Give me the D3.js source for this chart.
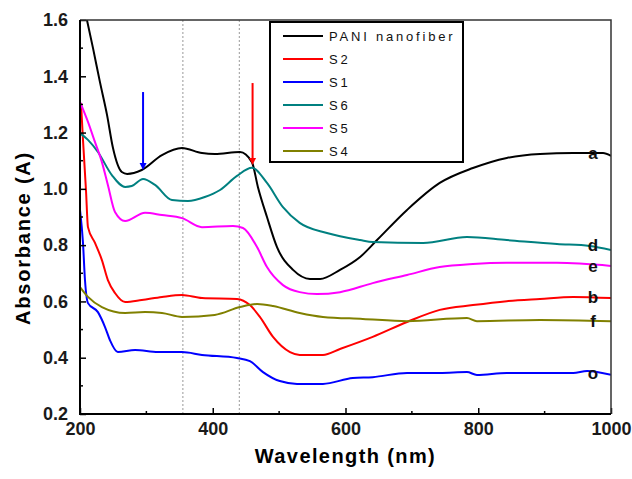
<!DOCTYPE html>
<html>
<head>
<meta charset="utf-8">
<script src="https://cdnjs.cloudflare.com/ajax/libs/d3/7.8.5/d3.min.js"></script>
<style>
  body { margin: 0; background: #fff; }
  svg { display: block; font-family: "Liberation Sans", Arial, sans-serif; }
</style>
</head>
<body>
<svg id="chart" width="632" height="479"></svg>
<script>
// wavelength (nm) / absorbance pairs
var pani = [[205,1.66],[219.6,1.50],[230,1.38],[240.7,1.263],[249.7,1.145],[263,1.060],[271,1.053],[293,1.067],[323.5,1.120],[353.7,1.145],[383.8,1.127],[403,1.124],[441,1.131],[459,1.095],[468,1.007],[481.7,0.900],[496.8,0.793],[521,0.712],[546.5,0.680],[561.6,0.680],[591.7,0.712],[622,0.758],[647.5,0.818],[692.7,0.925],[742,1.021],[792,1.074],[843,1.110],[893,1.124],[943,1.127],[988,1.127],[1000,1.117]];
var s2 = [[201.5,1.305],[204.5,1.174],[209,0.996],[212,0.864],[222.6,0.808],[233,0.747],[242,0.676],[252.7,0.630],[268,0.598],[293,0.605],[323.5,0.616],[353.7,0.623],[383.8,0.612],[436.5,0.609],[456,0.587],[471,0.545],[490.8,0.474],[516.4,0.420],[531,0.410],[566,0.410],[591.7,0.431],[641,0.474],[692.7,0.527],[742,0.570],[792,0.587],[843,0.601],[893,0.609],[943,0.616],[1000,0.612]];
var s1 = [[200,0.925],[204.5,0.808],[207.5,0.676],[212,0.594],[227,0.562],[237.7,0.509],[245,0.463],[257,0.420],[283,0.427],[317.5,0.420],[353.7,0.420],[383.8,0.410],[436.5,0.399],[456,0.388],[475.7,0.349],[501,0.317],[527,0.307],[566,0.307],[611,0.328],[641,0.331],[692.7,0.346],[742,0.346],[783,0.349],[798,0.339],[843,0.346],[943,0.346],[964,0.353],[1000,0.339]];
var s6 = [[200,1.198],[212,1.174],[227,1.131],[248,1.049],[268,1.007],[278,1.010],[295,1.035],[313,1.014],[338.6,0.960],[362.7,0.957],[388,0.971],[411,0.996],[436.5,1.046],[459,1.075],[481.7,1.021],[505.8,0.935],[531,0.879],[572,0.843],[622,0.818],[641,0.811],[717,0.808],[783,0.829],[843,0.818],[918.6,0.804],[968,0.797],[1000,0.783]];
var s5 = [[200,1.309],[212,1.238],[222.6,1.166],[233,1.095],[242,1.014],[252.7,0.918],[268,0.886],[298,0.915],[323.5,0.907],[353.7,0.896],[383.8,0.864],[430.5,0.868],[445.6,0.861],[466.7,0.793],[481.7,0.722],[505.8,0.658],[531,0.633],[557,0.626],[591.7,0.633],[641,0.665],[692.7,0.694],[742,0.722],[792,0.733],[843,0.737],[918.6,0.737],[1000,0.726]];
var s4 = [[200,0.651],[212,0.616],[233,0.580],[268,0.559],[298,0.562],[323.5,0.559],[353.7,0.545],[403,0.552],[441,0.580],[466.7,0.591],[490.8,0.584],[531,0.559],[566,0.545],[626,0.538],[692.7,0.530],[783,0.541],[798,0.530],[893,0.534],[1000,0.530]];

var seriesNames = ["PANI nanofiber", "S2", "S1", "S6", "S5", "S4"];
var seriesData = [pani, s2, s1, s6, s5, s4];
var seriesColors = ["#000000", "#ff0000", "#0000ff", "#008080", "#ff00ff", "#808000"];
var curveLabels = [["a", 1.127], ["d", 0.80], ["e", 0.727], ["b", 0.614], ["f", 0.53], ["o", 0.345]];
var xTicks = [200, 400, 600, 800, 1000];
var yTicks = [0.2, 0.4, 0.6, 0.8, 1.0, 1.2, 1.4, 1.6];
var markerLines = [355, 440];
var arrows = [[295, 1.344, 1.067, "#0000ff"], [460, 1.376, 1.085, "#ff0000"]];

var svg = d3.select("#chart");
var mLeft = 80, mRight = 611, mTop = 20, mBottom = 414;

var x = d3.scaleLinear().domain([200, 1000]).range([mLeft, mRight]);
var y = d3.scaleLinear().domain([0.2, 1.6]).range([mBottom, mTop]);

svg.append("defs").append("clipPath").attr("id", "clip")
  .append("rect").attr("x", mLeft).attr("y", mTop).attr("width", mRight - mLeft).attr("height", mBottom - mTop);

// dotted guides
svg.selectAll("line.guide").data(markerLines).enter().append("line")
  .attr("class", "guide")
  .attr("x1", function (d) { return x(d); }).attr("x2", function (d) { return x(d); })
  .attr("y1", mTop).attr("y2", mBottom)
  .attr("stroke", "#999").attr("stroke-width", 1).attr("stroke-dasharray", "2,2");

var line = d3.line().curve(d3.curveMonotoneX)
  .x(function (d) { return x(d[0]); }).y(function (d) { return y(d[1]); });

var plot = svg.append("g").attr("clip-path", "url(#clip)");
seriesData.forEach(function (data, i) {
  plot.append("path").datum(data)
    .attr("d", line)
    .attr("fill", "none")
    .attr("stroke", seriesColors[i])
    .attr("stroke-width", 2)
    .attr("stroke-linejoin", "round");
});

// arrows
arrows.forEach(function (a) {
  var ax = x(a[0]), y1 = y(a[1]), y2 = y(a[2]);
  svg.append("line").attr("x1", ax).attr("x2", ax).attr("y1", y1).attr("y2", y2 - 5)
    .attr("stroke", a[3]).attr("stroke-width", 2);
  svg.append("path")
    .attr("d", "M" + (ax - 3.5) + "," + (y2 - 7) + "L" + (ax + 3.5) + "," + (y2 - 7) + "L" + ax + "," + y2 + "Z")
    .attr("fill", a[3]);
});

// axes
var xAxis = d3.axisBottom(x).tickValues(xTicks).tickSizeInner(-6).tickSizeOuter(0).tickPadding(12).tickFormat(d3.format("d"));
var gx = svg.append("g").attr("transform", "translate(0," + mBottom + ")").call(xAxis);
var yAxis = d3.axisLeft(y).tickValues(yTicks).tickSizeInner(-6).tickSizeOuter(0).tickPadding(12).tickFormat(d3.format(".1f"));
var gy = svg.append("g").attr("transform", "translate(" + mLeft + ",0)").call(yAxis);

[gx, gy].forEach(function (g) {
  g.select(".domain").remove();
  g.selectAll("line").attr("stroke", "#000").attr("stroke-width", 1.5);
  g.selectAll("text").attr("fill", "#1a1a1a").style("font-size", "18px").style("font-weight", "bold");
});
gx.selectAll("text").attr("dy", "0.5em");

// minor ticks
var xMinor = d3.range(300, 1000, 200);
svg.selectAll("line.xminor").data(xMinor).enter().append("line")
  .attr("x1", function (d) { return x(d); }).attr("x2", function (d) { return x(d); })
  .attr("y1", mBottom).attr("y2", mBottom - 3).attr("stroke", "#000").attr("stroke-width", 1.5);
var yMinor = d3.range(0.3, 1.6, 0.2);
svg.selectAll("line.yminor").data(yMinor).enter().append("line")
  .attr("x1", mLeft).attr("x2", mLeft + 3)
  .attr("y1", function (d) { return y(d); }).attr("y2", function (d) { return y(d); })
  .attr("stroke", "#000").attr("stroke-width", 1.5);

// frame
svg.append("path").attr("d", "M" + mLeft + "," + mTop + "H" + mRight + "V" + mBottom)
  .attr("fill", "none").attr("stroke", "#333").attr("stroke-width", 1.5);
svg.append("path").attr("d", "M" + mLeft + "," + mTop + "V" + mBottom + "H" + mRight)
  .attr("fill", "none").attr("stroke", "#000").attr("stroke-width", 2);

// end labels
svg.selectAll("text.endlab").data(curveLabels).enter().append("text")
  .attr("class", "endlab")
  .attr("x", 593).attr("y", function (d) { return y(d[1]); })
  .attr("dy", "0.35em").attr("text-anchor", "middle")
  .style("font-size", "17px").style("font-weight", "bold").attr("fill", "#111")
  .text(function (d) { return d[0]; });

// legend
var lg = svg.append("g");
lg.append("rect").attr("x", 270).attr("y", 22).attr("width", 193).attr("height", 140)
  .attr("fill", "#fff").attr("stroke", "#000").attr("stroke-width", 2);
seriesNames.forEach(function (name, i) {
  var ly = 36 + i * 23;
  lg.append("line").attr("x1", 283).attr("x2", 323).attr("y1", ly).attr("y2", ly)
    .attr("stroke", seriesColors[i]).attr("stroke-width", 2);
  lg.append("text").attr("x", 329).attr("y", ly).attr("dy", "0.35em")
    .style("font-size", "13px").style("letter-spacing", "2.8px").attr("fill", "#111")
    .text(name);
});

// axis titles
svg.append("text").attr("x", (mLeft + mRight) / 2).attr("y", 463).attr("text-anchor", "middle")
  .style("font-size", "20px").style("font-weight", "bold").style("letter-spacing", "1.4px")
  .text("Wavelength (nm)");
svg.append("text").attr("transform", "translate(30,238) rotate(-90)").attr("text-anchor", "middle")
  .style("font-size", "20px").style("font-weight", "bold").style("letter-spacing", "1.8px")
  .text("Absorbance (A)");
</script>
</body>
</html>
